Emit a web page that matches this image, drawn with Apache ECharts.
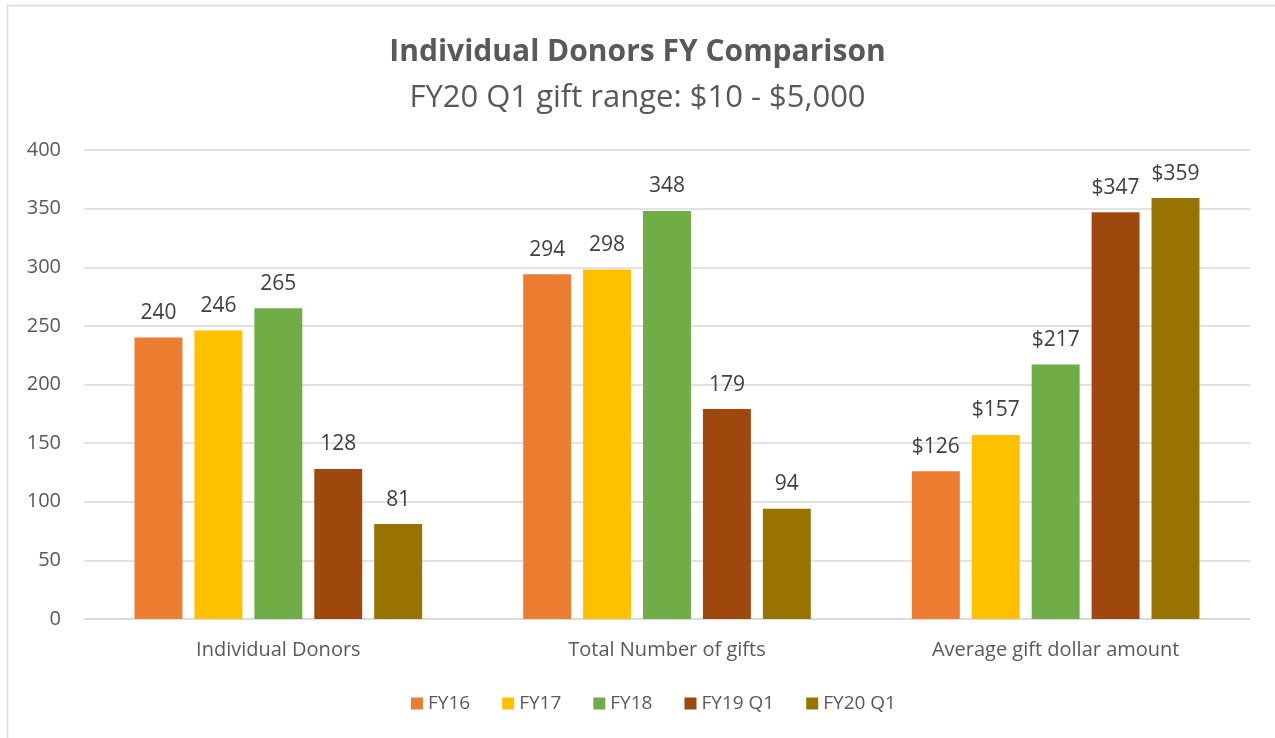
<!DOCTYPE html>
<html><head><meta charset="utf-8">
<script src="https://cdn.jsdelivr.net/npm/echarts@6/dist/echarts.min.js"></script>
<style>html,body{margin:0;padding:0;background:#fff}#c{width:1275px;height:738px}</style>
</head><body><div id="c"></div>
<script>
const categories = ['Individual Donors', 'Total Number of gifts', 'Average gift dollar amount'];
const seriesNames = ['FY16', 'FY17', 'FY18', 'FY19 Q1', 'FY20 Q1'];
const fy16 = [240, 294, 126];
const fy17 = [246, 298, 157];
const fy18 = [265, 348, 217];
const fy19q1 = [128, 179, 347];
const fy20q1 = [81, 94, 359];
const labelPrefixes = ['', '', '$'];
const colors = ['#ED7D31', '#FFC000', '#70AD47', '#9E480E', '#997300'];
const seriesValues = [fy16, fy17, fy18, fy19q1, fy20q1];

const font = '"Open Sans", "Liberation Sans", sans-serif';
const chart = echarts.init(document.getElementById('c'), null, {renderer: 'canvas'});
chart.setOption({
  animation: false,
  backgroundColor: '#fff',
  textStyle: {fontFamily: font},
  graphic: [{
    type: 'rect', z: -10, silent: true,
    shape: {x: 7.5, y: 5.5, width: 1400, height: 900},
    style: {fill: 'none', stroke: '#d9d9d9', lineWidth: 1.5}
  }],
  title: {
    text: 'Individual Donors FY Comparison',
    subtext: 'FY20 Q1 gift range: $10 - $5,000',
    left: 'center', top: 32, itemGap: 16,
    textStyle: {fontFamily: font, fontSize: 30, fontWeight: 'bold', color: '#595959'},
    subtextStyle: {fontFamily: font, fontSize: 31, color: '#595959'}
  },
  legend: {
    bottom: 20, left: 406, itemWidth: 12, itemHeight: 12, itemGap: 32,
    icon: 'rect',
    textStyle: {fontFamily: font, fontSize: 19, color: '#595959'},
    data: seriesNames
  },
  grid: {left: 84, right: 25, top: 150, bottom: 119},
  xAxis: {
    type: 'category', data: categories,
    axisLine: {lineStyle: {color: '#d9d9d9', width: 1.5}},
    axisTick: {show: false},
    axisLabel: {fontFamily: font, fontSize: 20, color: '#595959', margin: 21}
  },
  yAxis: {
    type: 'value', min: 0, max: 400, interval: 50,
    axisLine: {show: false}, axisTick: {show: false},
    axisLabel: {fontFamily: font, fontSize: 20, color: '#595959', margin: 23},
    splitLine: {lineStyle: {color: '#d9d9d9', width: 1.5}}
  },
  series: seriesNames.map((name, i) => ({
    name: name, type: 'bar',
    data: seriesValues[i],
    itemStyle: {color: colors[i]},
    barGap: '25%', barCategoryGap: '26%',
    label: {
      show: true, position: 'top', distance: 14,
      fontFamily: font, fontSize: 21, color: '#404040',
      formatter: p => labelPrefixes[p.dataIndex] + p.value
    }
  }))
});
</script></body></html>
